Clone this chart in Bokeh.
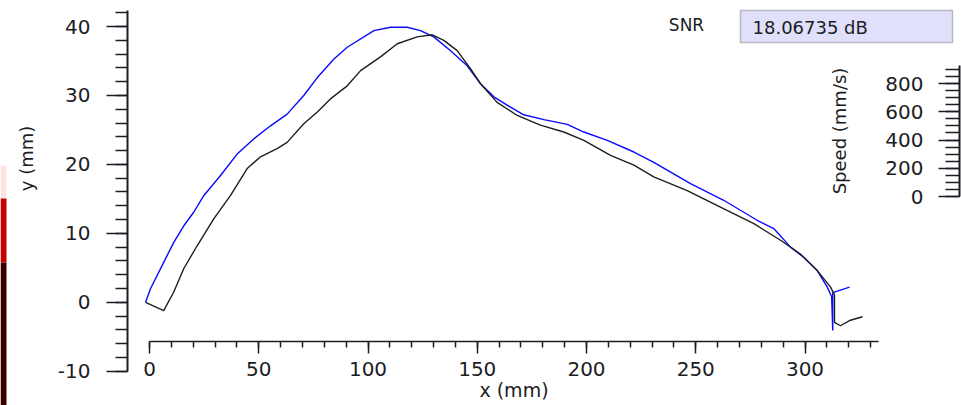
from bokeh.plotting import figure
from bokeh.models import (LinearAxis, Range1d, SingleIntervalTicker, Label, BoxAnnotation,
                          PrintfTickFormatter)
from bokeh.embed import file_html
from bokeh.resources import INLINE

# ---------------- data ----------------
blue_x = [-1.8, 0.5, 6.5, 11.1, 15.7, 20.3, 24.9, 32.5, 40.1, 47.7, 55.4, 63.0, 70.6, 76.8, 84.4,
          90.5, 102.7, 110.3, 117.9, 124.0, 130.1, 137.8, 145.4, 151.5, 157.6, 165.2, 171.3, 180.5,
          191.2, 198.8, 209.5, 221.7, 230.8, 247.6, 262.8, 278.1, 285.7, 293.4, 299.5, 305.6, 310.2,
          312.2, 312.7, 312.7, 320.4]
blue_y = [0.0, 2.0, 5.8, 8.7, 11.1, 13.1, 15.5, 18.4, 21.5, 23.7, 25.6, 27.3, 30.0, 32.6, 35.3,
          37.0, 39.4, 39.9, 39.9, 39.4, 38.5, 36.5, 34.3, 31.7, 29.8, 28.3, 27.2, 26.5,
          25.8, 24.7, 23.5, 21.8, 20.3, 17.2, 14.8, 11.9, 10.7, 8.0, 6.5, 4.6, 2.2,
          0.8, -4.1, 1.4, 2.2]
black_x = [-1.8, 6.5, 11.1, 15.7, 21.8, 29.4, 37.1, 44.7, 50.8, 58.4, 63.0, 70.6, 76.8, 82.8, 90.5,
           96.6, 105.7, 113.4, 122.5, 129.4, 134.7, 140.8, 146.9, 151.5, 159.1, 168.3, 178.9, 189.6,
           198.8, 211.0, 221.7, 230.8, 246.1, 261.3, 276.6, 288.8, 297.9, 305.6, 311.7, 313.5,
           313.5, 316.2, 320.8, 326.3]
black_y = [0.0, -1.2, 1.5, 4.9, 8.2, 12.1, 15.5, 19.4, 21.1, 22.3, 23.2, 25.9, 27.6, 29.5, 31.4,
           33.6, 35.6, 37.5, 38.5, 38.8, 38.0, 36.5, 33.9, 31.7, 29.0, 27.1, 25.7, 24.7,
           23.5, 21.3, 19.9, 18.2, 16.2, 13.8, 11.4, 9.0, 7.0, 4.6, 2.2, 1.1,
           -2.9, -3.4, -2.6, -2.1]
snr_label = "SNR"
snr_value = "18.06735 dB"
x_title = "x (mm)"
y_title = "y (mm)"
speed_title = "Speed (mm/s)"

# ---------------- pixel calibration of the window ----------------
W, H = 961, 405
X0_PX, X_SCALE = 149.0, 2.185      # x data 0 at px 149
Y0_PX, Y_SCALE = 301.8, 6.894      # y data 0 at px 301.8
S0_PX, S_SCALE = 196.0, 0.14125    # speed 0 at px 196


def px_x(px):
    return (px - X0_PX) / X_SCALE


def px_y(py):
    return (Y0_PX - py) / Y_SCALE


def px_s(py):
    return (S0_PX - py) / S_SCALE


FONT = "DejaVu Sans"
INK = "#1c1c24"

p = figure(width=W, height=H, output_backend="svg", toolbar_location=None,
           x_range=Range1d(px_x(0), px_x(W)), y_range=Range1d(px_y(H), px_y(0)),
           x_axis_location=None, y_axis_location=None, min_border=0,
           outline_line_color=None, background_fill_color="white", border_fill_color="white")
p.extra_y_ranges = {"speed": Range1d(px_s(H), px_s(0))}
p.grid.visible = False
p.xgrid.grid_line_color = None
p.ygrid.grid_line_color = None


def style_axis(ax, major_out, minor_out, standoff, line_width):
    ax.axis_line_color = INK
    ax.axis_line_width = line_width
    ax.major_tick_line_color = INK
    ax.minor_tick_line_color = INK
    ax.major_tick_line_width = 1.5
    ax.minor_tick_line_width = 1.5
    ax.major_tick_in = 0
    ax.minor_tick_in = 0
    ax.major_tick_out = major_out
    ax.minor_tick_out = minor_out
    ax.major_label_standoff = standoff
    ax.major_label_text_font = FONT
    ax.major_label_text_font_size = "20px"
    ax.major_label_text_color = INK
    ax.axis_label_text_font = FONT
    ax.axis_label_text_font_style = "normal"
    ax.axis_label_text_color = INK


# left y axis
yax = LinearAxis(fixed_location=px_x(127), bounds=(-10, px_y(10)),
                 ticker=SingleIntervalTicker(interval=10, num_minor_ticks=5),
                 formatter=PrintfTickFormatter(format="%d"))
style_axis(yax, 21, 12, 16, 2)
p.add_layout(yax, "left")

# bottom x axis
xax = LinearAxis(fixed_location=px_y(341), bounds=(0, px_x(878)),
                 ticker=SingleIntervalTicker(interval=50, num_minor_ticks=5),
                 axis_label=x_title)
style_axis(xax, 12, 6, 8, 1.5)
xax.axis_label_text_font_size = "19px"
xax.axis_label_standoff = 0
p.add_layout(xax, "below")

# speed axis (top right)
sax = LinearAxis(y_range_name="speed", fixed_location=px_x(959), bounds=(0, 930),
                 ticker=SingleIntervalTicker(interval=200, num_minor_ticks=4),
                 axis_label=speed_title)
style_axis(sax, 21, 14, 15, 2)
sax.axis_label_text_font_size = "18px"
sax.axis_label_standoff = 32
p.add_layout(sax, "left")

# y title
p.add_layout(Label(x=px_x(26), y=px_y(158), text=y_title, angle=90, angle_units="deg",
                   text_align="center", text_baseline="middle", text_font=FONT,
                   text_font_size="18px", text_color=INK))

# SNR indicator
p.add_layout(BoxAnnotation(left=px_x(740), right=px_x(952), top=px_y(10), bottom=px_y(42),
                           fill_color="#e0e0fa", fill_alpha=1.0, line_color="#b8b8c4",
                           line_alpha=1.0, line_width=1.5))
p.add_layout(Label(x=px_x(686), y=px_y(24), text=snr_label, text_align="center",
                   text_baseline="middle", text_font=FONT, text_font_size="17px",
                   text_color=INK))
p.add_layout(Label(x=px_x(752), y=px_y(27), text=snr_value, text_align="left",
                   text_baseline="middle", text_font=FONT, text_font_size="18px",
                   text_color=INK))

# background window edge visible at the far left
p.add_layout(BoxAnnotation(left=px_x(0), right=px_x(6), top=px_y(165), bottom=px_y(198),
                           fill_color="#fbe4e4", fill_alpha=1.0, line_color=None))
p.add_layout(BoxAnnotation(left=px_x(0), right=px_x(6), top=px_y(198), bottom=px_y(262),
                           fill_color="#c80000", fill_alpha=1.0, line_color=None))
p.add_layout(BoxAnnotation(left=px_x(0), right=px_x(6), top=px_y(262), bottom=px_y(405),
                           fill_color="#3a0000", fill_alpha=1.0, line_color=None))

# trajectories
p.line(blue_x, blue_y, line_color="#0a0aff", line_width=1.4)
p.line(black_x, black_y, line_color="#1e1e1e", line_width=1.4)

open("out.html", "w").write(file_html(p, INLINE))
